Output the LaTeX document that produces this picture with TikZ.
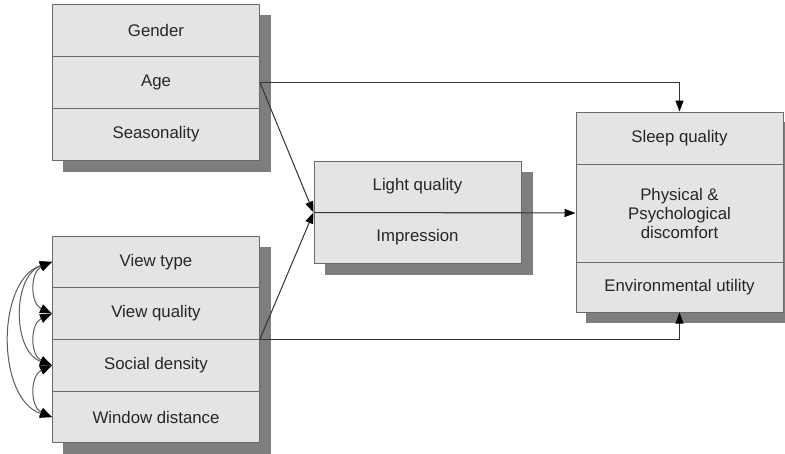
\documentclass[tikz,border=0pt]{standalone}
\usepackage{fontspec}
\setmainfont{Liberation Sans}
\usetikzlibrary{arrows.meta,backgrounds}
\definecolor{boxfill}{HTML}{E4E4E4}
\definecolor{boxline}{HTML}{6A6A6A}
\definecolor{shadowc}{HTML}{7E7E7E}
\definecolor{ink}{HTML}{333333}
\definecolor{label}{HTML}{262626}

\begin{document}
\begin{tikzpicture}[x=1pt,y=-1pt,
  row/.style={draw=boxline, fill=boxfill, line width=1pt, minimum width=207pt,
    inner sep=0pt, text=label, font=\fontsize{16.8}{19}\selectfont, align=center},
  link/.style={draw=ink, line width=1pt, -{Triangle[length=11pt,width=8pt,color=black]}},
  corr/.style={draw=ink!80, line width=1pt,
    {Triangle[length=12pt,width=9pt,color=black]}-{Triangle[length=12pt,width=9pt,color=black]}},
  boxshadow/.style={fill=shadowc}]
\useasboundingbox (0,0) rectangle (785,453);

% personal factors
\node[row, minimum height=51.7pt] (gender) at (156,30.8) {Gender};
\node[row, minimum height=51.7pt] (age)    at (156,82.5) {Age};
\node[row, minimum height=51.7pt] (season) at (156,134.2) {Seasonality};

% view and seating factors
\node[row, minimum height=51.75pt] (vt) at (156,261.9) {View type};
\node[row, minimum height=51.75pt] (vq) at (156,313.6) {View quality};
\node[row, minimum height=51.75pt] (sd) at (156,365.4) {Social density};
\node[row, minimum height=51.75pt] (wd) at (156,417.1) {Window distance};

% mediators
\node[row, minimum height=51pt] (lq)  at (417.5,186.5) {Light quality};
\node[row, minimum height=51pt] (imp) at (417.5,237.5) {Impression};

% outcomes
\node[row, minimum height=52pt] (sleep) at (679.5,138) {Sleep quality};
\node[row, minimum height=98pt] (disc)  at (679.5,213) {Physical \&\\Psychological\\discomfort};
\node[row, minimum height=50pt] (env)   at (679.5,287) {Environmental utility};

% drop shadows behind each group
\begin{scope}[on background layer]
  \fill[boxshadow] ([shift={(11,11)}]gender.north west) rectangle ([shift={(11,11)}]season.south east);
  \fill[boxshadow] ([shift={(11,11)}]vt.north west) rectangle ([shift={(11,11)}]wd.south east);
  \fill[boxshadow] ([shift={(11,11)}]lq.north west) rectangle ([shift={(11,11)}]imp.south east);
  \fill[boxshadow] ([shift={(10,10)}]sleep.north west) rectangle ([shift={(10,10)}]env.south east);
\end{scope}

% main paths
\coordinate (topturn) at (sleep.north |- age.east);
\coordinate (botturn) at (env.south |- sd.north east);
\draw[link] (age.east) -- (topturn) -- (sleep.north);
\draw[link] (sd.north east) -- (botturn) -- (env.south);
\draw[link] (age.east) -- (lq.south west);
\draw[link] (sd.north east) -- (lq.south west);
\draw[link] (lq.south west) -- (disc.west);

% correlations among view factors
\draw[corr] (vt.west) .. controls +(-22,10) and +(-22,-10) .. (vq.west);
\draw[corr] (vq.west) .. controls +(-22,10) and +(-22,-10) .. (sd.west);
\draw[corr] (sd.west) .. controls +(-22,10) and +(-22,-10) .. (wd.west);
\draw[corr] (vt.west) .. controls +(-40,14) and +(-40,-14) .. (sd.west);
\draw[corr] (vt.west) .. controls +(-56,18) and +(-56,-18) .. (wd.west);
\end{tikzpicture}
\end{document}
